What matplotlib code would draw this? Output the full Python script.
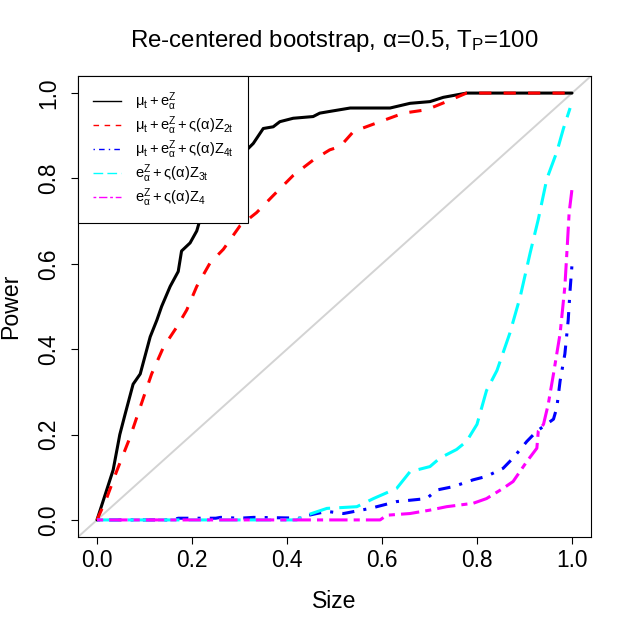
import matplotlib
matplotlib.use("Agg")
import matplotlib.pyplot as plt
from matplotlib.lines import Line2D

plt.rcParams["font.family"] = ["Liberation Sans", "DejaVu Sans"]
plt.rcParams["mathtext.fontset"] = "custom"
plt.rcParams["mathtext.rm"] = "Liberation Sans"
plt.rcParams["mathtext.it"] = "Liberation Sans"
plt.rcParams["mathtext.bf"] = "Liberation Sans:bold"

# ── Data ─────────────────────────────────────────────────────────────────────
size_black = [0.0, 0.034, 0.048, 0.059, 0.076, 0.091, 0.112, 0.126, 0.136, 0.154,
              0.171, 0.178, 0.196, 0.21, 0.217, 0.231, 0.245, 0.259, 0.273, 0.301,
              0.329, 0.35, 0.371, 0.385, 0.413, 0.455, 0.469, 0.49, 0.533, 0.617,
              0.659, 0.701, 0.729, 0.778, 1.0]
power_black = [0.0, 0.117, 0.2, 0.247, 0.318, 0.342, 0.429, 0.468, 0.5, 0.547,
               0.582, 0.63, 0.649, 0.677, 0.704, 0.728, 0.767, 0.776, 0.807, 0.851,
               0.882, 0.917, 0.921, 0.933, 0.941, 0.945, 0.953, 0.957, 0.965, 0.965,
               0.976, 0.98, 0.99, 1.0, 1.0]

size_red = [0.0, 0.02, 0.041, 0.069, 0.098, 0.115, 0.14, 0.168, 0.189, 0.21,
            0.238, 0.266, 0.301, 0.336, 0.371, 0.413, 0.455, 0.49, 0.512, 0.54,
            0.596, 0.645, 0.694, 0.736, 0.778, 1.0]
power_red = [0.0, 0.05, 0.113, 0.192, 0.287, 0.342, 0.405, 0.452, 0.492, 0.547,
             0.602, 0.634, 0.689, 0.72, 0.76, 0.807, 0.843, 0.867, 0.875, 0.91,
             0.933, 0.953, 0.961, 0.98, 1.0, 1.0]

size_blue = [0.0, 0.16, 0.171, 0.25, 0.26, 0.3, 0.33, 0.44, 0.446, 0.484, 0.519,
             0.575, 0.631, 0.694, 0.715, 0.75, 0.792, 0.82, 0.855, 0.876, 0.905,
             0.926, 0.961, 0.968, 0.975, 0.985, 0.992, 0.996, 1.0]
power_blue = [0.0, 0.0, 0.004, 0.004, 0.006, 0.004, 0.006, 0.004, 0.011, 0.02, 0.015,
              0.027, 0.043, 0.05, 0.07, 0.078, 0.094, 0.102, 0.121, 0.145, 0.184,
              0.208, 0.236, 0.263, 0.326, 0.389, 0.468, 0.539, 0.598]

size_cyan = [0.0, 0.42, 0.441, 0.484, 0.547, 0.582, 0.631, 0.659, 0.701, 0.722,
             0.757, 0.778, 0.8, 0.82, 0.842, 0.869, 0.891, 0.912, 0.929, 0.947,
             0.968, 0.982, 0.996]
power_cyan = [0.0, 0.0, 0.011, 0.027, 0.031, 0.05, 0.074, 0.113, 0.125, 0.145,
              0.165, 0.184, 0.224, 0.303, 0.35, 0.437, 0.523, 0.626, 0.704, 0.799,
              0.862, 0.917, 0.965]

size_magenta = [0.0, 0.596, 0.61, 0.659, 0.701, 0.736, 0.792, 0.82, 0.855, 0.876,
                0.905, 0.926, 0.929, 0.94, 0.95, 0.961, 0.975, 0.985, 0.99, 0.994,
                1.0]
power_magenta = [0.0, 0.0, 0.011, 0.015, 0.023, 0.031, 0.039, 0.05, 0.074, 0.09,
                 0.137, 0.168, 0.208, 0.224, 0.271, 0.342, 0.437, 0.547, 0.641, 0.72,
                 0.775]

legend_labels = [
    r"$\mu_t + e_{\alpha}^{Z}$",
    r"$\mu_t + e_{\alpha}^{Z} + \varsigma(\alpha)Z_{2t}$",
    r"$\mu_t + e_{\alpha}^{Z} + \varsigma(\alpha)Z_{4t}$",
    r"$e_{\alpha}^{Z} + \varsigma(\alpha)Z_{3t}$",
    r"$e_{\alpha}^{Z} + \varsigma(\alpha)Z_{4}$",
]

# colour, dash pattern (R lty 1, 2, 4, 5, 6)
styles = [
    ("black", None),
    ("red", (0, (4, 4))),
    ("blue", (0, (1, 3, 4, 3))),
    ("cyan", (0, (7, 3))),
    ("magenta", (0, (2, 2, 6, 2))),
]
series = [
    (size_black, power_black),
    (size_red, power_red),
    (size_blue, power_blue),
    (size_cyan, power_cyan),
    (size_magenta, power_magenta),
]

fig = plt.figure(figsize=(6.34, 6.33), dpi=100)
ax = fig.add_axes([78 / 634, 96 / 633, (591 - 78) / 634, (537 - 76) / 633])

ax.axline((0, 0), slope=1, color="#D3D3D3", lw=1.4, zorder=1)

for (xs, ys), (col, ls) in zip(series, styles):
    ax.plot(xs, ys, color=col, lw=2.2, linestyle=ls if ls else "-",
            solid_capstyle="round", dash_capstyle="butt", zorder=3)

ax.set_xlim(-0.04, 1.04)
ax.set_ylim(-0.04, 1.04)
ticks = [0.0, 0.2, 0.4, 0.6, 0.8, 1.0]
ax.set_xticks(ticks)
ax.set_yticks(ticks)
ax.set_xticklabels([f"{t:.1f}" for t in ticks], fontsize=16.4)
ax.set_yticklabels([f"{t:.1f}" for t in ticks], fontsize=16.4, rotation=90, va="center")
ax.tick_params(direction="out", length=5, width=0.8, color="black")
ax.tick_params(axis="x", pad=3.4)
ax.tick_params(axis="y", pad=8)
for spine in ax.spines.values():
    spine.set_linewidth(0.8)
    spine.set_color("black")

fig.text(334.5 / 634, 1 - 47 / 633,
         r"Re-centered bootstrap, $\alpha$=0.5, T$_\mathrm{P}$=100",
         ha="center", va="baseline", fontsize=17.3)
fig.text(334.5 / 634, 1 - 608 / 633, "Size", ha="center", va="baseline", fontsize=16.6)
fig.text(17 / 634, 1 - 306 / 633, "Power", ha="center", va="baseline",
         rotation=90, rotation_mode="anchor", fontsize=16.6)

handles = [Line2D([], [], color=col, lw=1, linestyle=ls if ls else "-")
           for col, ls in styles]
leg = ax.legend(handles, legend_labels, loc="upper left", borderaxespad=0,
                fontsize=10.5, handlelength=1.92, handletextpad=1.0,
                labelspacing=0.09, borderpad=1.0, fancybox=False, framealpha=1)
leg.get_frame().set_edgecolor("black")
leg.get_frame().set_linewidth(0.8)

fig.savefig("out.png", dpi=100)
